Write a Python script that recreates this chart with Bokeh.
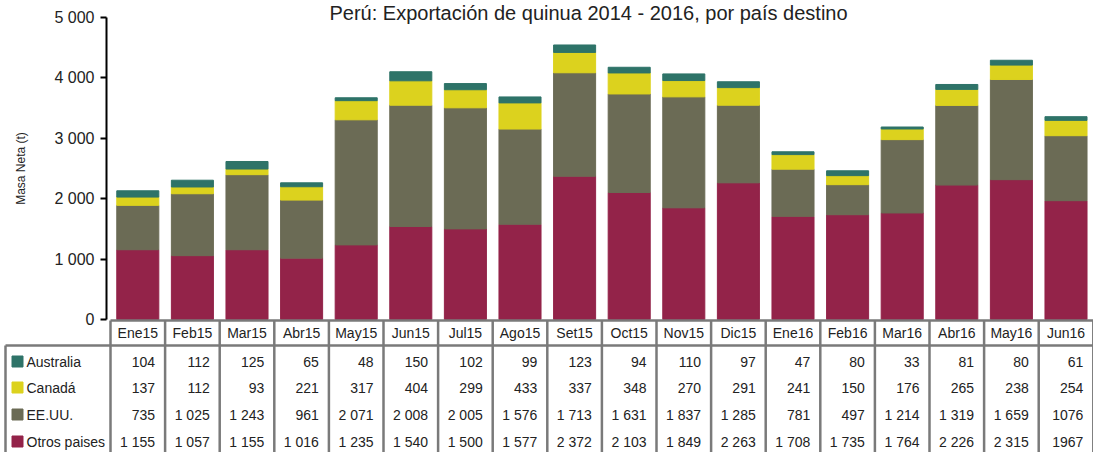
from bokeh.plotting import figure
from bokeh.models import ColumnDataSource, Range1d, LinearAxis, FixedTicker
from bokeh.core.properties import value
from bokeh.embed import file_html
from bokeh.resources import INLINE

# ---------------- data ----------------
months = ["Ene15", "Feb15", "Mar15", "Abr15", "May15", "Jun15", "Jul15", "Ago15", "Set15",
          "Oct15", "Nov15", "Dic15", "Ene16", "Feb16", "Mar16", "Abr16", "May16", "Jun16"]
australia = [104, 112, 125, 65, 48, 150, 102, 99, 123, 94, 110, 97, 47, 80, 33, 81, 80, 61]
canada = [137, 112, 93, 221, 317, 404, 299, 433, 337, 348, 270, 291, 241, 150, 176, 265, 238, 254]
eeuu = [735, 1025, 1243, 961, 2071, 2008, 2005, 1576, 1713, 1631, 1837, 1285, 781, 497, 1214, 1319, 1659, 1076]
otros = [1155, 1057, 1155, 1016, 1235, 1540, 1500, 1577, 2372, 2103, 1849, 2263, 1708, 1735, 1764, 2226, 2315, 1967]
series_labels = ["Australia", "Canadá", "EE.UU.", "Otros paises"]
y_ticks = [0, 1000, 2000, 3000, 4000, 5000]
y_tick_labels = ["0", "1 000", "2 000", "3 000", "4 000", "5 000"]
no_sep_months = ["Jun16"]
title = "Perú: Exportación de quinua 2014 - 2016, por país destino"
y_label = "Masa Neta (t)"

# ---------------- style / layout ----------------
COLORS = {"Australia": "#2e7368", "Canadá": "#dcd21e", "EE.UU.": "#6b6b55", "Otros paises": "#932349"}
FONT = "Liberation Sans"
TXT = "#222222"
GRID = "#7a7a7a"
TABLE_FS = "14px"

W, H = 1093, 452
PAGE_X0, PAGE_Y0 = 0, 0
COL = 54.6            # px per category
X_ORIGIN = 110        # page x of category 0 left edge
Y_ORIGIN = 319        # page y of value 0
PXU = 302 / 5000      # px per unit


def xp(px):
    return (px - X_ORIGIN) / COL


def yp(py):
    return (Y_ORIGIN - py) / PXU


x0 = xp(PAGE_X0)
x1 = x0 + W / COL
y1 = yp(PAGE_Y0)
y0 = y1 - H / PXU

p = figure(width=W, height=H, x_range=Range1d(x0, x1), y_range=Range1d(y0, y1),
           output_backend="svg", toolbar_location=None, min_border=0,
           x_axis_type=None, y_axis_type=None)
p.outline_line_color = None
p.background_fill_color = "white"
p.border_fill_color = "white"

# ---------------- y axis ----------------
yaxis = LinearAxis(fixed_location=xp(106), bounds=(0, 5000),
                   ticker=FixedTicker(ticks=y_ticks),
                   major_label_overrides={t: l for t, l in zip(y_ticks, y_tick_labels)})
yaxis.axis_line_color = "black"
yaxis.axis_line_width = 2
yaxis.major_tick_line_color = "black"
yaxis.major_tick_line_width = 2
yaxis.major_tick_out = 6
yaxis.major_tick_in = 0
yaxis.minor_tick_out = 0
yaxis.minor_tick_in = 0
yaxis.major_label_standoff = 6
yaxis.major_label_text_font = FONT
yaxis.major_label_text_font_size = "16px"
yaxis.major_label_text_color = TXT
yaxis.axis_label = y_label
yaxis.axis_label_text_font = FONT
yaxis.axis_label_text_font_size = "12px"
yaxis.axis_label_text_font_style = "normal"
yaxis.axis_label_text_color = TXT
yaxis.axis_label_standoff = 23
p.add_layout(yaxis, "left")

# ---------------- bars ----------------
xs = [i + 0.5 for i in range(len(months))]
src = ColumnDataSource(dict(x=xs, months=months, otros=otros, eeuu=eeuu, canada=canada, australia=australia))
p.vbar_stack(["otros", "eeuu", "canada", "australia"], x="x", width=0.77,
             color=[COLORS["Otros paises"], COLORS["EE.UU."], COLORS["Canadá"], COLORS["Australia"]],
             source=src)

# ---------------- title ----------------
p.text(x=[xp(588)], y=[yp(12)], text=[title], text_align="center", text_baseline="middle",
       text_font=value(FONT), text_font_size="20px", text_color=TXT)

# ---------------- table grid ----------------
n = len(months)
head_top = yp(320)
head_bot = yp(345)
label_left = xp(5)
gx0 = [float(i) for i in range(n + 1)] + [label_left, 0.0, label_left]
gy0 = [head_top] * (n + 1) + [head_bot, head_top, head_bot]
gx1 = [float(i) for i in range(n + 1)] + [label_left, x1, x1]
gy1 = [y0] * (n + 1) + [y0, head_top, head_bot]
p.segment(x0=gx0, y0=gy0, x1=gx1, y1=gy1, line_color=GRID, line_width=2.5)

# header labels
p.text(x=xs, y=[yp(332.5)] * n, text=months, text_align="center", text_baseline="middle",
       text_font=value(FONT), text_font_size=TABLE_FS, text_color=TXT)


def fmt(v, month):
    sep = "" if month in no_sep_months else " "
    return f"{v:,}".replace(",", sep)


row_pages = [361, 387, 414, 441]
row_data = [australia, canada, eeuu, otros]
for label, data, rp in zip(series_labels, row_data, row_pages):
    ry = yp(rp)
    p.text(x=[i + 1 - 10 / COL for i in range(n)], y=[ry] * n,
           text=[fmt(v, m) for v, m in zip(data, months)],
           text_align="right", text_baseline="middle",
           text_font=value(FONT), text_font_size=TABLE_FS, text_color=TXT)
    p.scatter(x=[xp(17)], y=[ry], marker="square", size=11, color=COLORS[label])
    p.text(x=[xp(26)], y=[ry], text=[label], text_align="left", text_baseline="middle",
           text_font=value(FONT), text_font_size=TABLE_FS, text_color=TXT)

open("out.html", "w").write(file_html(p, INLINE))
